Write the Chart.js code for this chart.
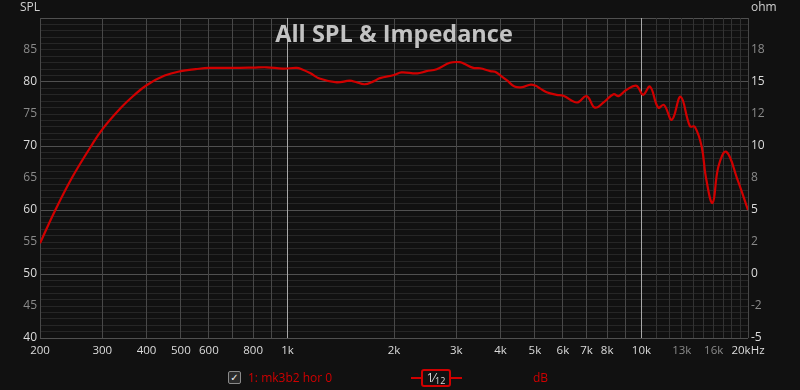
<!DOCTYPE html>
<html>
<head>
<meta charset="utf-8">
<script src="https://cdn.jsdelivr.net/npm/chart.js@4.4.1/dist/chart.umd.min.js"></script>
<style>
  body { margin: 0; background: #111111; }
  #wrap { position: relative; width: 800px; height: 390px; font-family: "Open Sans", sans-serif; }
  .ctl { position: absolute; }
  #chk { left: 228px; top: 371px; width: 11px; height: 11px; border: 1px solid #8a8a8a; border-radius: 2px;
         background: #2a2a2a; color: #eee; font: bold 10px "DejaVu Sans"; line-height: 11px; text-align: center; }
  #name { left: 248px; top: 369px; font-size: 12px; color: #d00000; }
  #smLine { left: 411px; top: 377px; width: 51px; height: 2px; background: #d00000; }
  #smBox { left: 421px; top: 369px; width: 26px; height: 14px; border: 2px solid #d00000; border-radius: 3px;
           background: #111; color: #ddd; font-size: 12px; line-height: 14px; text-align: center; }
  #smBox sub { font-size: 9px; vertical-align: -2px; }
  #unit { left: 533px; top: 369px; font-size: 12px; color: #d00000; }
</style>
</head>
<body>
<div id="wrap">
  <canvas id="splChart" width="800" height="390"></canvas>
  <div class="ctl" id="chk">✓</div>
  <div class="ctl" id="name">1: mk3b2 hor 0</div>
  <div class="ctl" id="smLine"></div>
  <div class="ctl" id="smBox">1⁄<sub>12</sub></div>
  <div class="ctl" id="unit">dB</div>
</div>
<script>
// frequency response (Hz, dB)
const freqs = [200, 221, 246, 279, 300, 339, 370, 400, 450, 500, 550, 600, 700, 800, 874, 971, 1062, 1097,
  1158, 1238, 1378, 1500, 1560, 1650, 1750, 1825, 2000, 2100, 2326, 2470, 2640, 2875, 3070, 3170,
  3350, 3500, 3740, 3860, 4000, 4180, 4380, 4610, 4870, 5030, 5170, 5400, 5760, 6020, 6570, 7000,
  7390, 7850, 8340, 8620, 9060, 9680, 10110, 10570, 11150, 11580, 12190, 12900, 13710, 14150,
  14800, 15200, 15880, 16500, 17370, 18690, 20000];
const splDb = [54.8, 60.0, 65.0, 70.0, 72.6, 76.0, 78.0, 79.5, 81.0, 81.7, 82.0, 82.2, 82.2, 82.25, 82.3, 82.1, 82.2, 82.0,
  81.4, 80.5, 79.95, 80.2, 80.0, 79.65, 80.1, 80.6, 81.1, 81.5, 81.35, 81.7, 82.0, 83.0, 83.1, 82.8,
  82.2, 82.15, 81.7, 81.6, 81.0, 80.2, 79.3, 79.2, 79.6, 79.4, 79.0, 78.4, 78.0, 77.85, 76.8, 77.8,
  76.0, 76.9, 78.1, 77.8, 78.75, 79.4, 78.0, 79.3, 76.0, 76.4, 74.1, 77.7, 73.1, 73.0,
  69.9, 65.2, 61.1, 66.8, 69.1, 64.7, 60.0];

// axis ticks
const freqTicks = [200, 300, 400, 500, 600, 700, 800, 900, 1000, 2000, 3000, 4000, 5000, 6000, 7000,
  8000, 9000, 10000, 11000, 12000, 13000, 14000, 15000, 16000, 17000, 18000, 19000, 20000];
const freqLabels = { 200: '200', 300: '300', 400: '400', 500: '500', 600: '600', 800: '800', 1000: '1k',
  2000: '2k', 3000: '3k', 4000: '4k', 5000: '5k', 6000: '6k', 7000: '7k', 8000: '8k', 10000: '10k',
  13000: '13k', 16000: '16k', 20000: '20kHz' };
const ohmTicks = [-5, -2.5, 0, 2.5, 5, 7.5, 10, 12.5, 15, 17.5, 20];
const ohmLabels = ['-5', '-2', '0', '2', '5', '8', '10', '12', '15', '18', ''];

const FONT = '"Open Sans", sans-serif';

const overlayText = {
  id: 'overlayText',
  beforeDatasetsDraw(chart) {
    const { ctx, chartArea } = chart;
    ctx.save();
    ctx.fillStyle = '#c3c3c3';
    ctx.font = 'bold 23.5px ' + FONT;
    ctx.textAlign = 'center';
    ctx.textBaseline = 'alphabetic';
    ctx.fillText('All SPL & Impedance', (chartArea.left + chartArea.right) / 2, 42);
    ctx.font = '12px ' + FONT;
    ctx.fillStyle = '#d0d0d0';
    ctx.textAlign = 'left';
    ctx.textBaseline = 'middle';
    ctx.fillText('SPL', 20, 8);
    ctx.fillText('ohm', 751, 8);
    ctx.restore();
  }
};

new Chart(document.getElementById('splChart'), {
  type: 'line',
  data: {
    labels: freqs,
    datasets: [{
      data: freqs.map((f, i) => ({ x: f, y: splDb[i] })),
      borderColor: '#d00000',
      borderWidth: 2.2,
      pointRadius: 0,
      tension: 0.4,
      yAxisID: 'y'
    }]
  },
  options: {
    responsive: false,
    animation: false,
    layout: { padding: { top: 18, left: 0, right: 0, bottom: 0 } },
    plugins: { legend: { display: false }, tooltip: { enabled: false } },
    scales: {
      x: {
        type: 'logarithmic',
        min: 200,
        max: 20000,
        afterBuildTicks: s => { s.ticks = freqTicks.map(v => ({ value: v })); },
        afterFit: s => { s.height = 52; },
        border: { display: false },
        grid: {
          z: -1,
          drawTicks: false,
          color: c => {
            const v = c.tick && c.tick.value;
            if (v === 1000 || v === 10000) return '#a8a8a8';
            if (v > 10000 && v < 20000) return '#333333';
            return '#484848';
          }
        },
        ticks: {
          autoSkip: false,
          maxRotation: 0,
          padding: 6,
          font: { family: FONT, size: 11.5 },
          color: c => (c.tick.value === 13000 || c.tick.value === 16000) ? '#8a8a8a' : '#dcdcdc',
          callback: v => freqLabels[v] || ''
        }
      },
      y: {
        position: 'left',
        min: 40,
        max: 90,
        afterFit: s => { s.width = 40; },
        border: { display: false },
        grid: {
          z: -2,
          drawTicks: false,
          color: c => {
            const v = c.tick && c.tick.value;
            if (v % 10 === 0) return '#505050';
            return '#262626';
          }
        },
        ticks: {
          stepSize: 1,
          autoSkip: false,
          padding: 3,
          font: { family: FONT, size: 12 },
          color: c => c.tick.value % 10 === 0 ? '#dcdcdc' : '#8a8a8a',
          callback: v => (v % 5 === 0 && v !== 90) ? String(v) : ''
        }
      },
      ohm: {
        position: 'right',
        min: -5,
        max: 20,
        afterBuildTicks: s => { s.ticks = ohmTicks.map(v => ({ value: v })); },
        afterFit: s => { s.width = 52; },
        border: { display: false },
        grid: { display: false, drawTicks: false },
        ticks: {
          autoSkip: false,
          padding: 3,
          font: { family: FONT, size: 12 },
          color: c => Number.isInteger(c.tick.value / 5) ? '#dcdcdc' : '#8a8a8a',
          callback: v => ohmLabels[ohmTicks.indexOf(v)]
        }
      }
    }
  },
  plugins: [overlayText]
});
</script>
</body>
</html>
